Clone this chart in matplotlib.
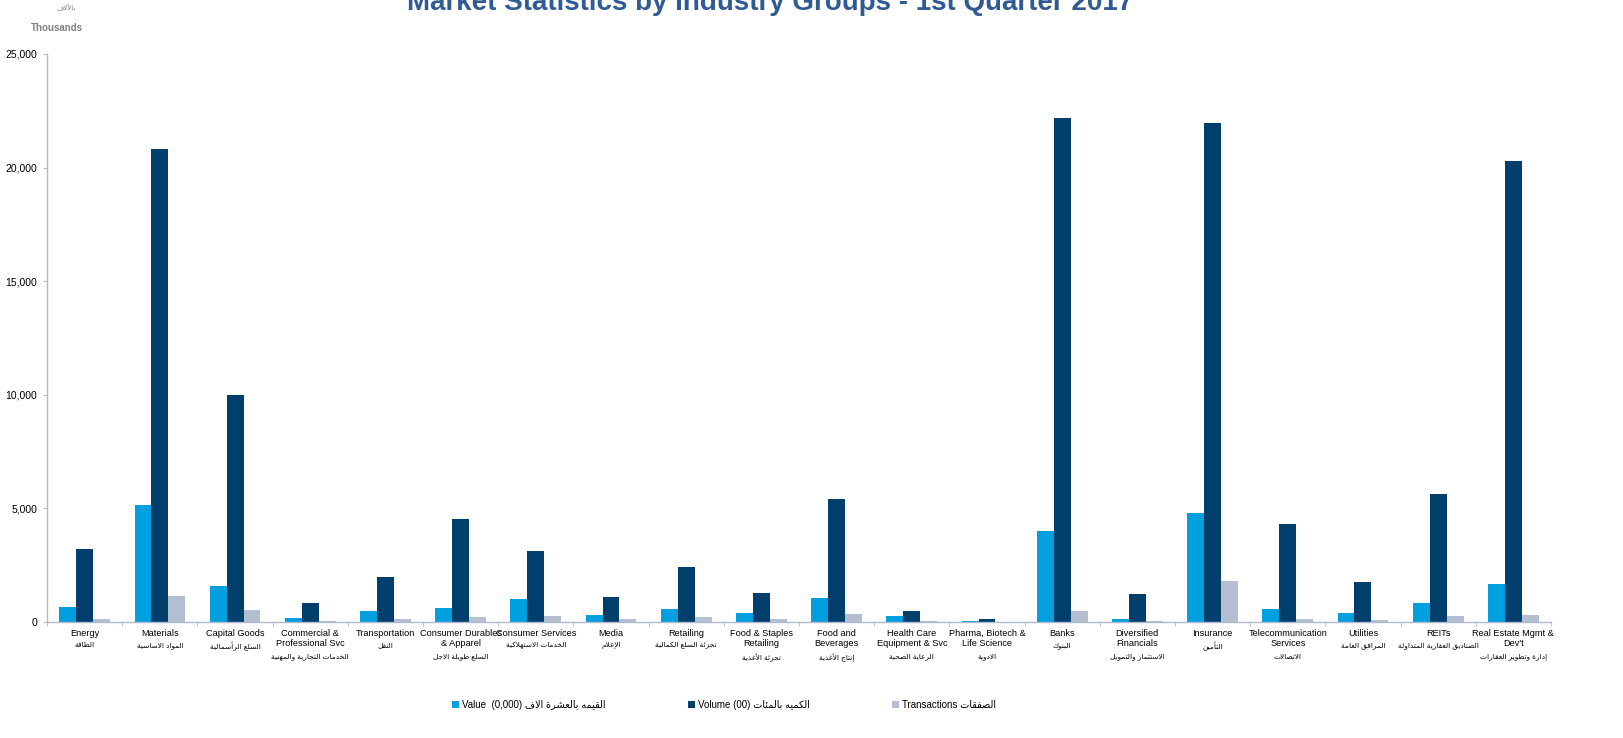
import matplotlib
matplotlib.use("Agg")
import matplotlib.pyplot as plt
import numpy as np
from matplotlib.ticker import FuncFormatter

# --- data (thousands) ---
groups_en = ["Energy", "Materials", "Capital Goods", "Commercial &\nProfessional Svc",
             "Transportation", "Consumer Durables\n& Apparel", "Consumer Services", "Media",
             "Retailing", "Food & Staples\nRetailing", "Food and\nBeverages",
             "Health Care\nEquipment & Svc", "Pharma, Biotech &\nLife Science", "Banks",
             "Diversified\nFinancials", "Insurance", "Telecommunication\nServices", "Utilities",
             "REITs", "Real Estate Mgmt &\nDev't"]
groups_ar = ["الطاقة", "المواد الاساسية", "السلع الرأسمالية", "الخدمات التجارية والمهنية",
             "النقل", "السلع طويلة الاجل", "الخدمات الاستهلاكية", "الإعلام",
             "تجزئة السلع الكمالية", "تجزئة الأغذية", "إنتاج الأغذية", "الرعاية الصحية",
             "الادوية", "البنوك", "الاستثمار والتمويل", "التأمين", "الاتصالات",
             "المرافق العامة", "الصناديق العقارية المتداولة", "إدارة وتطوير العقارات"]

value = [660, 5150, 1600, 200, 500, 620, 1000, 300, 580, 380,
         1050, 280, 60, 4020, 150, 4800, 580, 420, 860, 1680]
volume = [3200, 20800, 10000, 820, 2000, 4550, 3130, 1100, 2420, 1300,
          5420, 480, 150, 22200, 1220, 21950, 4320, 1750, 5620, 20300]
transactions = [150, 1150, 550, 60, 130, 230, 270, 130, 220, 130,
                360, 60, 10, 480, 50, 1800, 150, 100, 280, 330]

title = "Market Statistics by Industry Groups - 1st Quarter 2017"

# --- minimal arabic shaping (presentation forms, visual order) ---
AR_FORMS = {
    'ء': (0xFE80, 1), 'آ': (0xFE81, 2), 'أ': (0xFE83, 2), 'ؤ': (0xFE85, 2), 'إ': (0xFE87, 2),
    'ئ': (0xFE89, 4), 'ا': (0xFE8D, 2), 'ب': (0xFE8F, 4), 'ة': (0xFE93, 2), 'ت': (0xFE95, 4),
    'ث': (0xFE99, 4), 'ج': (0xFE9D, 4), 'ح': (0xFEA1, 4), 'خ': (0xFEA5, 4), 'د': (0xFEA9, 2),
    'ذ': (0xFEAB, 2), 'ر': (0xFEAD, 2), 'ز': (0xFEAF, 2), 'س': (0xFEB1, 4), 'ش': (0xFEB5, 4),
    'ص': (0xFEB9, 4), 'ض': (0xFEBD, 4), 'ط': (0xFEC1, 4), 'ظ': (0xFEC5, 4), 'ع': (0xFEC9, 4),
    'غ': (0xFECD, 4), 'ف': (0xFED1, 4), 'ق': (0xFED5, 4), 'ك': (0xFED9, 4), 'ل': (0xFEDD, 4),
    'م': (0xFEE1, 4), 'ن': (0xFEE5, 4), 'ه': (0xFEE9, 4), 'و': (0xFEED, 2), 'ى': (0xFEEF, 2),
    'ي': (0xFEF1, 4),
    '\uFEF5': (0xFEF5, 2), '\uFEF7': (0xFEF7, 2), '\uFEF9': (0xFEF9, 2), '\uFEFB': (0xFEFB, 2),
}
LAM_ALEF = {'لآ': '\uFEF5', 'لأ': '\uFEF7', 'لإ': '\uFEF9', 'لا': '\uFEFB'}


def shape_ar(s):
    for k, v in LAM_ALEF.items():
        s = s.replace(k, v)
    out = []
    for i, c in enumerate(s):
        if c not in AR_FORMS:
            out.append(c)
            continue
        base, n = AR_FORMS[c]
        prev = s[i - 1] if i > 0 else ''
        nxt = s[i + 1] if i + 1 < len(s) else ''
        jp = n > 1 and prev in AR_FORMS and AR_FORMS[prev][1] == 4
        jn = n == 4 and nxt in AR_FORMS and AR_FORMS[nxt][1] > 1
        if jp and jn:
            code = base + 3
        elif jp:
            code = base + 1
        elif jn:
            code = base + 2
        else:
            code = base
        out.append(chr(code))
    return ''.join(reversed(out))


plt.rcParams['font.family'] = ['Liberation Sans', 'DejaVu Sans']

c_value = "#009FDF"
c_volume = "#003F6B"
c_trans = "#B4BFD2"
c_axis = "#AEB9CE"

fig = plt.figure(figsize=(16.24, 7.38), dpi=100)
ax = fig.add_axes([0.029, 0.157, 0.926, 0.770])

x = np.arange(len(groups_en))
w = 0.225
ax.bar(x - w, value, w, color=c_value, label="Value  (0,000) " + shape_ar("القيمه بالعشرة الاف"))
ax.bar(x, volume, w, color=c_volume, label="Volume (00) " + shape_ar("الكميه بالمئات"))
ax.bar(x + w, transactions, w, color=c_trans, label="Transactions " + shape_ar("الصفقات"))

ax.set_xlim(-0.5, len(groups_en) - 0.5)
ax.set_ylim(0, 25000)
ax.set_yticks(np.arange(0, 25001, 5000))
ax.yaxis.set_major_formatter(FuncFormatter(lambda v, p: f"{int(v):,}"))
ax.tick_params(axis='y', labelsize=7.5, length=3, color=c_axis, pad=4)

ax.set_xticks([])
ax.set_xticks(np.arange(-0.5, len(groups_en), 1), minor=True)
ax.tick_params(axis='x', which='minor', length=3, color=c_axis)

# category labels: english lines then a smaller arabic line
for i, (en, ar) in enumerate(zip(groups_en, groups_ar)):
    n = en.count("\n") + 1
    ax.annotate(en, xy=(i, 0), xycoords=('data', 'axes fraction'), xytext=(0, -5),
                textcoords='offset points', ha='center', va='top', fontsize=6.6,
                linespacing=1.2)
    ax.annotate(shape_ar(ar), xy=(i, 0), xycoords=('data', 'axes fraction'),
                xytext=(0, -5.5 - 8.6 * n), textcoords='offset points', ha='center',
                va='top', fontsize=5.3)

for s in ['top', 'right']:
    ax.spines[s].set_visible(False)
for s in ['left', 'bottom']:
    ax.spines[s].set_color(c_axis)
    ax.spines[s].set_linewidth(1)

fig.text(0.474, 0.996, title, ha='center', va='center', fontsize=20,
         color="#2F5A93", fontweight='bold')
fig.text(0.035, 0.962, "Thousands", ha='center', va='center', fontsize=7,
         color="#7F7F7F", fontweight='bold')
fig.text(0.041, 0.99, shape_ar("بالآلاف"), ha='center', va='center', fontsize=5,
         color="#7F7F7F")

fig.legend(loc='center', bbox_to_anchor=(0.446, 0.045), ncol=3, frameon=False,
           fontsize=7, handlelength=0.7, handleheight=0.7, handletextpad=0.3,
           columnspacing=8.5)

fig.savefig("out.png", dpi=100)
